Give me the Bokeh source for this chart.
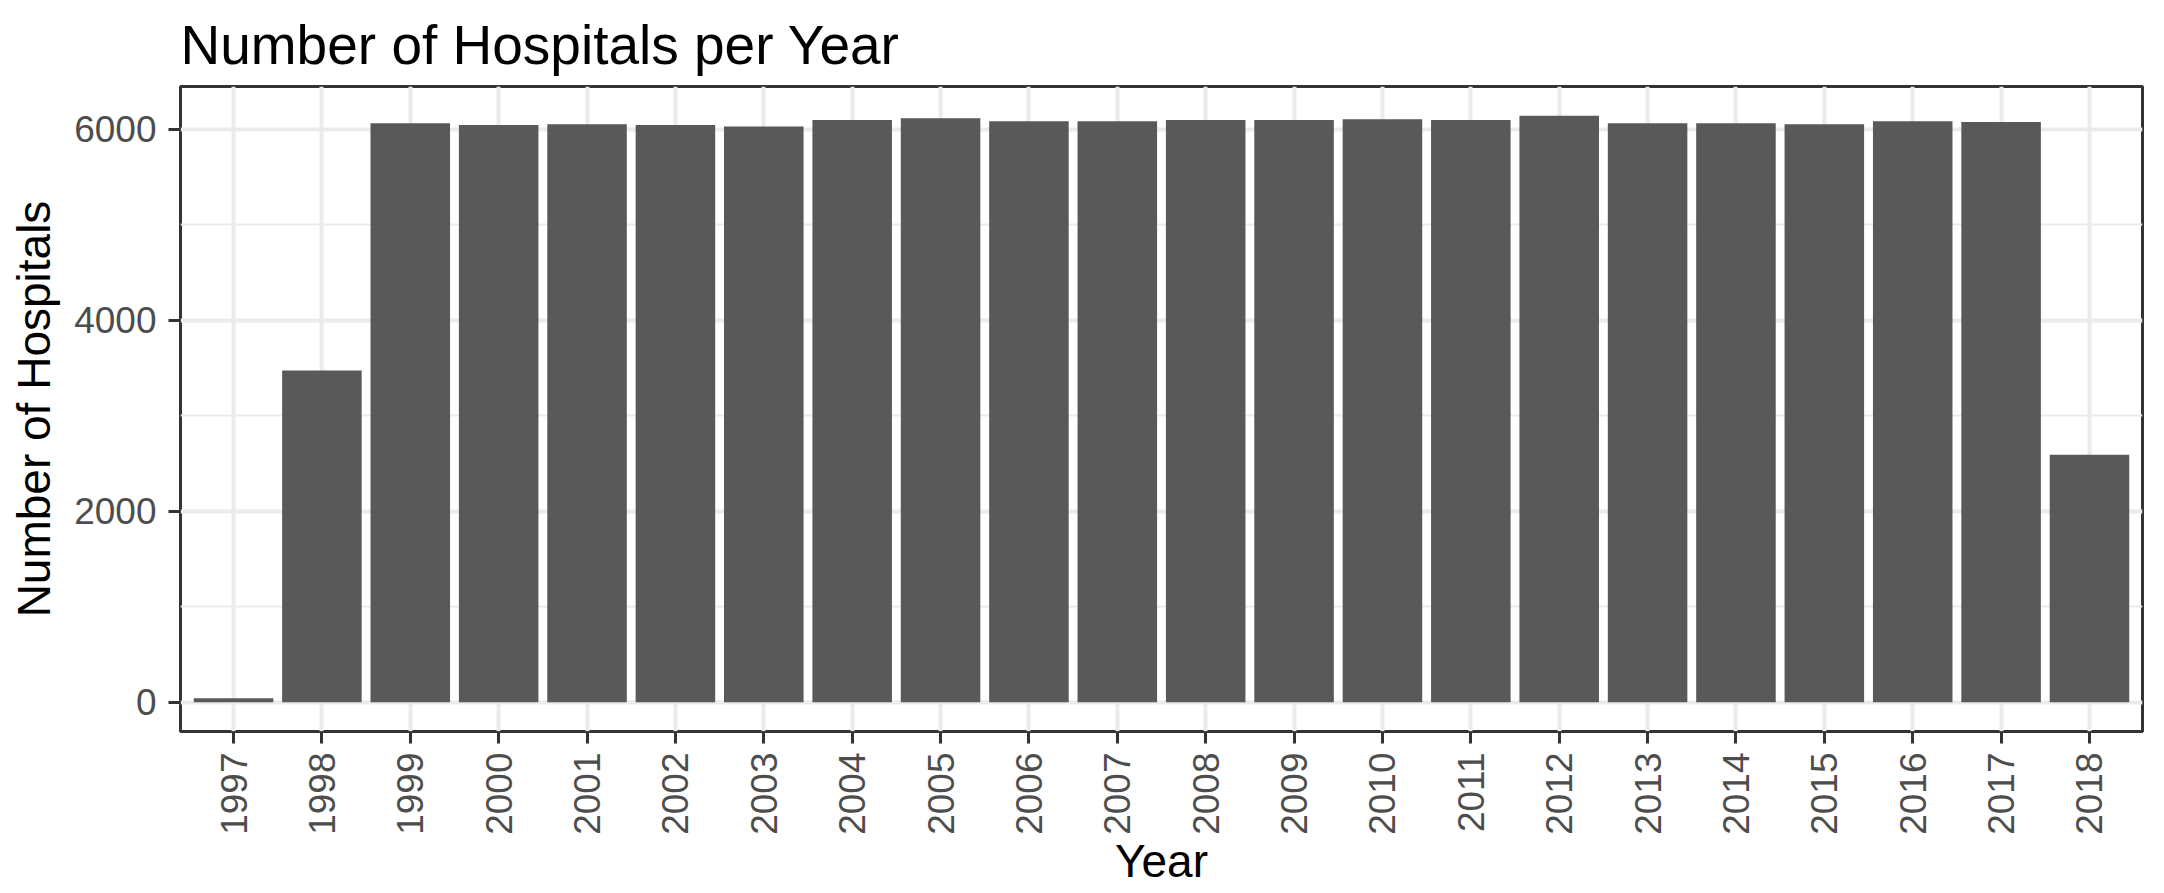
import math
from bokeh.plotting import figure
from bokeh.models import Range1d, FactorRange, FixedTicker, Title
from bokeh.embed import file_html
from bokeh.resources import INLINE

years = [str(y) for y in range(1997, 2019)]
hospitals = [40, 3473, 6062, 6042, 6052, 6042, 6028, 6094, 6114, 6083, 6083,
             6094, 6094, 6104, 6094, 6139, 6062, 6062, 6052, 6083, 6073, 2591]
y_ticks = [0, 2000, 4000, 6000]
y_minor = [1000, 3000, 5000]

FONT = "Liberation Sans"
ymax = max(hospitals)
pad = 0.05 * ymax
y_lo, y_hi = -pad, ymax + pad

p = figure(width=2148, height=885, output_backend="svg", toolbar_location=None,
           x_range=FactorRange(*years, range_padding=0.1, range_padding_units="absolute"),
           y_range=Range1d(y_lo, y_hi),
           min_border_left=180, min_border_right=6, min_border_top=84, min_border_bottom=149)

p.title = Title(text="Number of Hospitals per Year", text_font=FONT, text_font_size="55px",
                text_font_style="normal", text_color="black", align="left", standoff=22)

p.vbar(x=years, top=hospitals, width=0.9, bottom=0, fill_color="#595959", line_color=None)

p.background_fill_color = "white"
p.border_fill_color = "white"
p.outline_line_color = "#333333"
p.outline_line_width = 3

p.yaxis.ticker = FixedTicker(ticks=y_ticks, minor_ticks=y_minor)
p.xgrid.grid_line_color = "#EBEBEB"
p.xgrid.grid_line_width = 4
p.ygrid.grid_line_color = "#EBEBEB"
p.ygrid.grid_line_width = 4
p.ygrid.minor_grid_line_color = "#EBEBEB"
p.ygrid.minor_grid_line_width = 2
p.grid.level = "underlay"

for ax in (p.xaxis, p.yaxis):
    ax.axis_line_color = None
    ax.major_tick_line_color = "#333333"
    ax.major_tick_line_width = 3
    ax.major_tick_out = 12
    ax.major_tick_in = 0
    ax.minor_tick_line_color = None
    ax.major_label_text_font = FONT
    ax.major_label_text_font_size = "37px"
    ax.major_label_text_color = "#4D4D4D"
    ax.axis_label_text_font = FONT
    ax.axis_label_text_font_size = "46px"
    ax.axis_label_text_font_style = "normal"
    ax.axis_label_text_color = "black"

p.yaxis.axis_label = "Number of Hospitals"
p.xaxis.major_label_orientation = math.pi / 2
p.xaxis.major_label_standoff = 9
p.yaxis.major_label_standoff = 12
p.yaxis.axis_label_standoff = 11

# x-axis title: a title in the bottom side panel, centred under the plot frame
p.add_layout(Title(text="Year", text_font=FONT, text_font_size="46px", text_font_style="normal",
                   text_color="black", align="center", vertical_align="top", standoff=-6),
             "below")

open("out.html", "w").write(file_html(p, INLINE))
